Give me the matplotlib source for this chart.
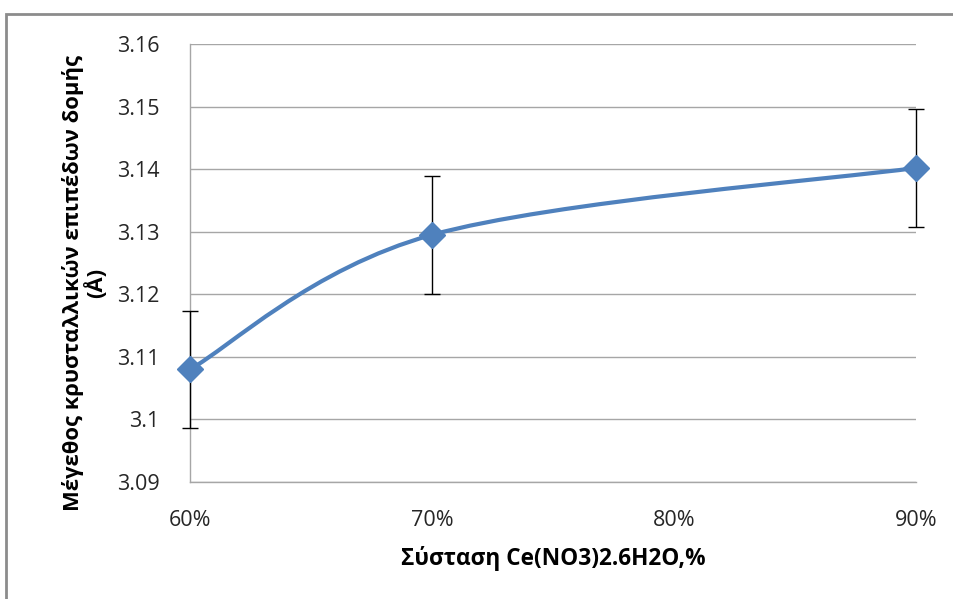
import matplotlib
matplotlib.use("Agg")
import matplotlib.pyplot as plt
from matplotlib.path import Path
from matplotlib.patches import PathPatch, Rectangle
import numpy as np

plt.rcParams['font.family'] = ['Open Sans', 'DejaVu Sans']

# data
comp = [60, 70, 90]                 # % Ce(NO3)2.6H2O
size = [3.108, 3.1295, 3.1402]      # Å
err = [0.0094, 0.0094, 0.0094]
yticks = [3.09, 3.1, 3.11, 3.12, 3.13, 3.14, 3.15, 3.16]
ytick_labels = ['3.09', '3.1', '3.11', '3.12', '3.13', '3.14', '3.15', '3.16']
xticks = [60, 70, 80, 90]
xtick_labels = ['60%', '70%', '80%', '90%']

blue = '#4F81BD'
grid_c = '#A6A6A6'


def smooth_path(x, y):
    # Excel-style smoothed line as cubic Bezier segments
    pts = np.column_stack([x, y]).astype(float)
    n = len(pts)
    verts = [pts[0]]
    codes = [Path.MOVETO]
    for i in range(n - 1):
        p_prev = pts[i - 1] if i > 0 else pts[i]
        p_next = pts[i + 2] if i + 2 < n else pts[i + 1]
        c1 = pts[i] + (pts[i + 1] - p_prev) / 6.0
        c2 = pts[i + 1] - (p_next - pts[i]) / 6.0
        verts += [c1, c2, pts[i + 1]]
        codes += [Path.CURVE4] * 3
    return Path(verts, codes)


fig = plt.figure(figsize=(9.54, 5.99), dpi=100)
ax = fig.add_axes([190 / 954, 1 - 482 / 599, 726 / 954, 438 / 599])

# outer chart frame
fig.patches.append(Rectangle((6 / 954, -0.05), 1.0, 1 - 14 / 599 + 0.05,
                             transform=fig.transFigure, fill=False,
                             edgecolor='#8C8C8C', linewidth=2))

ax.set_xlim(60, 90)
ax.set_ylim(3.09, 3.16)
ax.set_yticks(yticks)
ax.set_yticklabels(ytick_labels)
ax.set_xticks(xticks)
ax.set_xticklabels(xtick_labels)
ax.tick_params(length=0, labelsize=15.5, colors='#262626')
ax.tick_params(axis='y', pad=22)
ax.tick_params(axis='x', pad=20)

for yv in yticks:
    ax.axhline(yv, color=grid_c, linewidth=1, zorder=0)
for s in ['top', 'right']:
    ax.spines[s].set_visible(False)
for s in ['left', 'bottom']:
    ax.spines[s].set_color(grid_c)
    ax.spines[s].set_linewidth(1)

ax.add_patch(PathPatch(smooth_path(comp, size), facecolor='none',
                       edgecolor=blue, linewidth=3, zorder=3,
                       capstyle='round', clip_on=False))
ax.errorbar(comp, size, yerr=err, fmt='none', ecolor='black',
            elinewidth=1, capsize=6, capthick=1, zorder=4, clip_on=False)
ax.plot(comp, size, linestyle='none', marker='D', markersize=13,
        color=blue, zorder=5, clip_on=False)

ax.set_xlabel('Σύσταση Ce(NO3)2.6H2O,%', fontsize=16.3, fontweight='bold')
ax.xaxis.set_label_coords(0.5, -(546 - 482) / 438)
ax.set_ylabel('Μέγεθος κρυσταλλικών επιπέδων δομής\n(Å)', fontsize=15.8,
              fontweight='bold', linespacing=1.0)
ax.yaxis.set_label_coords(-(190 - 107) / 726, (482 - 283) / 438)

fig.savefig('out.png', dpi=100)
